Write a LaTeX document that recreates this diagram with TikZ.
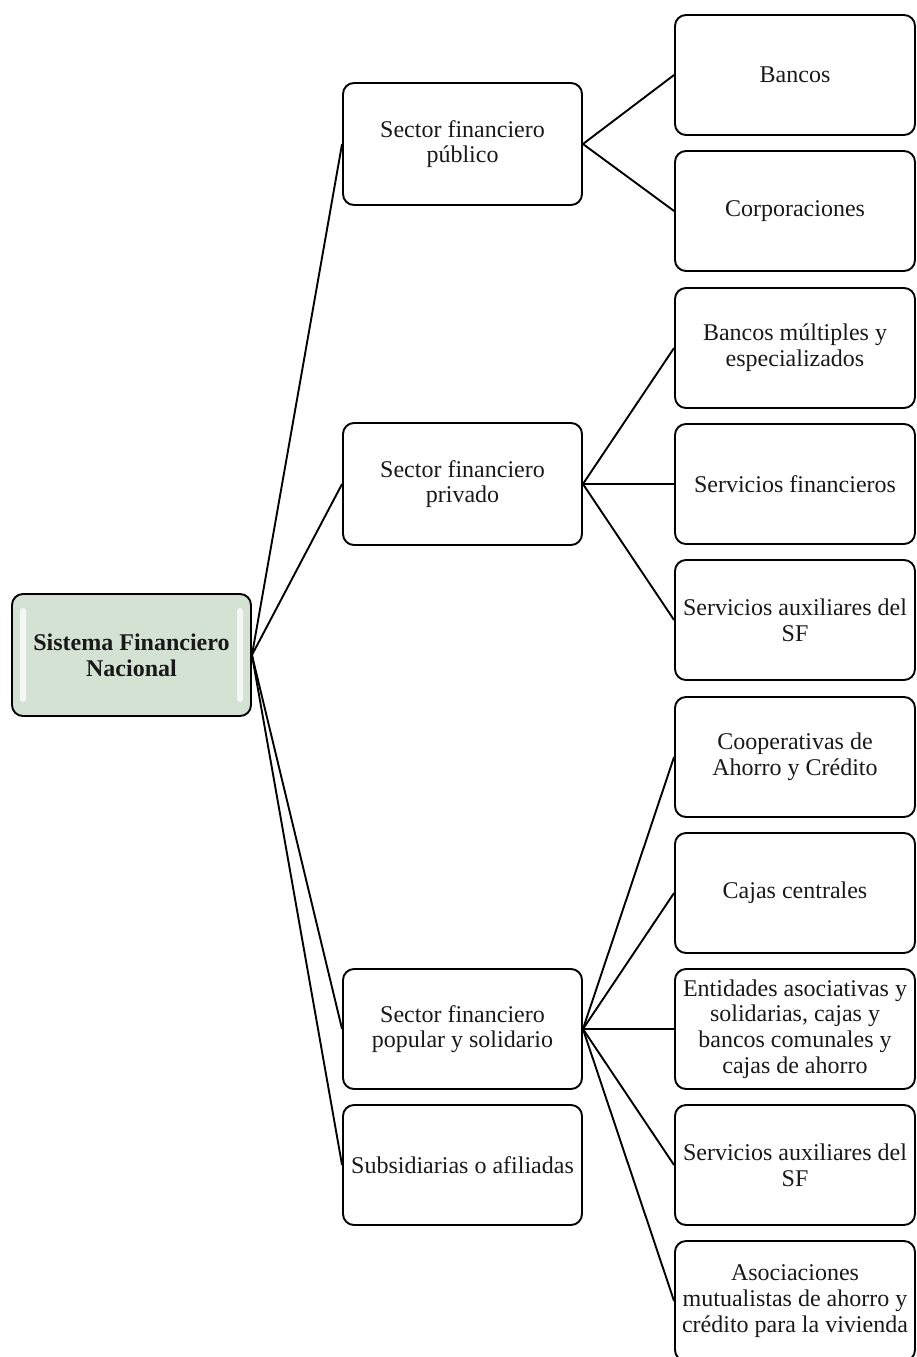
\documentclass[tikz,border=0pt]{standalone}
\usepackage{fontspec}
\setmainfont{Liberation Serif}
\definecolor{rootfill}{RGB}{212,226,212}
\begin{document}
\begin{tikzpicture}[x=1pt,y=-1pt,line join=round,
  box/.style={draw=black,line width=1.9pt,rounded corners=11pt,
    minimum width=240pt,minimum height=120pt,align=center,inner sep=0pt,
    font=\fontsize{24}{25.7}\selectfont,text=black!90},
  rootbox/.style={box,minimum width=239pt,minimum height=122pt,
    font=\fontsize{24}{25.7}\selectfont\bfseries},
  link/.style={line width=1.9pt,black}]
\useasboundingbox (0,0) rectangle (917,1357);

% root: tinted panel with glossy side highlights, then the framed node
\fill[rootfill,rounded corners=11pt] (12,594) rectangle (251,716);
\fill[white,opacity=0.75,rounded corners=3pt] (20,608) rectangle (26,702);
\fill[white,opacity=0.75,rounded corners=3pt] (237,608) rectangle (243,702);
\node[rootbox] (root) at (131.5,655) {Sistema Financiero\\Nacional};

% first level
\node[box,minimum width=239pt,minimum height=122pt] (pub) at (462.5,144) {Sector financiero\\público};
\node[box,minimum width=239pt,minimum height=122pt] (priv) at (462.5,484) {Sector financiero\\privado};
\node[box,minimum width=239pt] (pop) at (462.5,1029) {Sector financiero\\popular y solidario};
\node[box,minimum width=239pt] (sub) at (462.5,1165) {Subsidiarias o afiliadas};

% second level
\node[box] (b1) at (795,75) {Bancos};
\node[box] (b2) at (795,211) {Corporaciones};
\node[box] (c1) at (795,348) {Bancos múltiples y\\especializados};
\node[box] (c2) at (795,484) {Servicios financieros};
\node[box] (c3) at (795,620) {Servicios auxiliares del\\SF};
\node[box] (d1) at (795,757) {Cooperativas de\\Ahorro y Crédito};
\node[box] (d2) at (795,893) {Cajas centrales};
\node[box] (d3) at (795,1029) {Entidades asociativas y\\solidarias, cajas y\\bancos comunales y\\cajas de ahorro};
\node[box] (d4) at (795,1165) {Servicios auxiliares del\\SF};
\node[box] (d5) at (795,1301) {Asociaciones\\mutualistas de ahorro y\\crédito para la vivienda};

% connectors
\foreach \t in {pub,priv,pop,sub} \draw[link] (root.east) -- (\t.west);
\foreach \t in {b1,b2} \draw[link] (pub.east) -- (\t.west);
\foreach \t in {c1,c2,c3} \draw[link] (priv.east) -- (\t.west);
\foreach \t in {d1,d2,d3,d4,d5} \draw[link] (pop.east) -- (\t.west);
\end{tikzpicture}
\end{document}
